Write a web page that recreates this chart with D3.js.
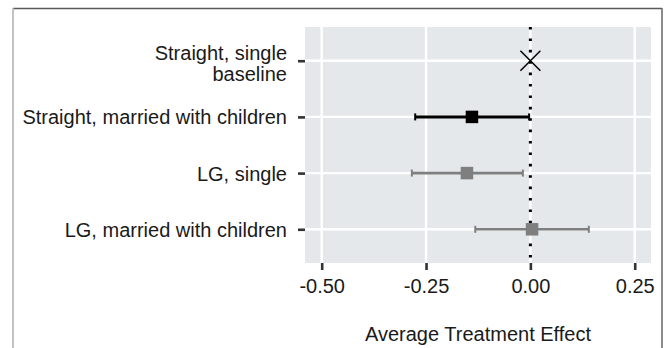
<!DOCTYPE html>
<html>
<head>
<meta charset="utf-8">
<script src="https://cdn.jsdelivr.net/npm/d3@7"></script>
<style>
  html, body { margin: 0; padding: 0; background: #ffffff; }
  svg { display: block; }
  text { font-family: "Liberation Sans", Arial, sans-serif; }
</style>
</head>
<body>
<svg id="chart" width="666" height="348"></svg>
<script>
// ---- data ----
const categories = ["Straight, single\nbaseline", "Straight, married with children", "LG, single", "LG, married with children"];
const groups = ["baseline", "Straight", "LG", "LG"];
const estimates = [0.000, -0.140, -0.152, 0.004];
const lowerCI = [null, -0.276, -0.284, -0.132];
const upperCI = [null, -0.003, -0.018, 0.140];
const xTickValues = [-0.50, -0.25, 0.00, 0.25];
const xTickLabels = ["-0.50", "-0.25", "0.00", "0.25"];
const xTitle = "Average Treatment Effect";

// ---- layout ----
const W = 666, H = 348;
const panel = { left: 305, right: 651, top: 27, bottom: 263 };
const svg = d3.select("#chart");

// frame
svg.append("line").attr("x1", 13).attr("x2", 662).attr("y1", 8.5).attr("y2", 8.5)
  .attr("stroke", "#5a5a5a").attr("stroke-width", 1.6);
svg.append("line").attr("x1", 13).attr("x2", 13).attr("y1", 8).attr("y2", H)
  .attr("stroke", "#b4b4b4").attr("stroke-width", 1.6);
svg.append("line").attr("x1", 662).attr("x2", 662).attr("y1", 8).attr("y2", H)
  .attr("stroke", "#6e6e6e").attr("stroke-width", 1.6);

const x = d3.scaleLinear().domain([-0.54, 0.289]).range([panel.left, panel.right]);
const y = d3.scalePoint().domain(categories).range([panel.top, panel.bottom]).padding(0.6);
const color = d3.scaleOrdinal().domain(["baseline", "Straight", "LG"]).range(["#000000", "#000000", "#7f7f7f"]);

// panel background
svg.append("rect")
  .attr("x", panel.left).attr("y", panel.top)
  .attr("width", panel.right - panel.left).attr("height", panel.bottom - panel.top)
  .attr("fill", "#e4e8ea");

// grid lines
const grid = svg.append("g");
grid.selectAll("line.vx").data(xTickValues).join("line")
  .attr("x1", d => x(d)).attr("x2", d => x(d))
  .attr("y1", panel.top).attr("y2", panel.bottom)
  .attr("stroke", "#ffffff").attr("stroke-width", 2.4);
grid.selectAll("line.hy").data(categories).join("line")
  .attr("x1", panel.left).attr("x2", panel.right)
  .attr("y1", d => y(d)).attr("y2", d => y(d))
  .attr("stroke", "#ffffff").attr("stroke-width", 2.4);

// zero reference (dotted)
svg.append("line")
  .attr("x1", x(0)).attr("x2", x(0))
  .attr("y1", panel.top).attr("y2", panel.bottom)
  .attr("stroke", "#000000").attr("stroke-width", 3)
  .attr("stroke-dasharray", "2.6 8.8");

// x axis
const xAxis = d3.axisBottom(x).tickValues(xTickValues)
  .tickFormat((d, i) => xTickLabels[i]).tickSize(7).tickPadding(9);
const gx = svg.append("g").attr("transform", `translate(0,${panel.bottom})`).call(xAxis);
gx.select(".domain").remove();
gx.selectAll(".tick line").attr("stroke", "#333333").attr("stroke-width", 2.6);
gx.selectAll(".tick text").attr("fill", "#1a1a1a").style("font-size", "20px");

// y axis
const yAxis = d3.axisLeft(y).tickSize(7).tickPadding(11);
const gy = svg.append("g").attr("transform", `translate(${panel.left},0)`).call(yAxis);
gy.select(".domain").remove();
gy.selectAll(".tick line").attr("stroke", "#333333").attr("stroke-width", 2.6);
gy.selectAll(".tick text").each(function(d) {
  const lines = d.split("\n");
  const t = d3.select(this).text(null).attr("fill", "#1a1a1a").style("font-size", "20px").attr("dy", null);
  const lh = 21;
  const offset = -((lines.length - 1) * lh) / 2 + 7;
  lines.forEach((ln, i) => {
    t.append("tspan").attr("x", -18).attr("y", offset + i * lh + (lines.length > 1 ? 2 : 0)).text(ln);
  });
});

// error bars
const marks = svg.append("g");
const rows = categories.map((c, i) => ({ c, g: groups[i], est: estimates[i], lo: lowerCI[i], hi: upperCI[i] }));
const ci = rows.filter(r => r.lo !== null);
marks.selectAll("line.ci").data(ci).join("line")
  .attr("x1", d => x(d.lo)).attr("x2", d => x(d.hi))
  .attr("y1", d => y(d.c)).attr("y2", d => y(d.c))
  .attr("stroke", d => color(d.g)).attr("stroke-width", d => d.g === "LG" ? 2.6 : 3);
marks.selectAll("line.capl").data(ci).join("line")
  .attr("x1", d => x(d.lo)).attr("x2", d => x(d.lo))
  .attr("y1", d => y(d.c) - 3.5).attr("y2", d => y(d.c) + 3.5)
  .attr("stroke", d => color(d.g)).attr("stroke-width", 2);
marks.selectAll("line.caph").data(ci).join("line")
  .attr("x1", d => x(d.hi)).attr("x2", d => x(d.hi))
  .attr("y1", d => y(d.c) - 3.5).attr("y2", d => y(d.c) + 3.5)
  .attr("stroke", d => color(d.g)).attr("stroke-width", 2);

// square points
const sq = 12.5;
marks.selectAll("rect.pt").data(ci).join("rect")
  .attr("x", d => x(d.est) - sq / 2).attr("y", d => y(d.c) - sq / 2)
  .attr("width", sq).attr("height", sq)
  .attr("fill", d => color(d.g));

// baseline X marker
const base = rows.filter(r => r.lo === null);
const xs = 10;
base.forEach(d => {
  const cx = x(d.est), cy = y(d.c);
  marks.append("path")
    .attr("d", `M${cx - xs},${cy - xs}L${cx + xs},${cy + xs}M${cx - xs},${cy + xs}L${cx + xs},${cy - xs}`)
    .attr("stroke", color(d.g)).attr("stroke-width", 1.5).attr("fill", "none");
});

// x axis title
svg.append("text")
  .attr("x", (panel.left + panel.right) / 2).attr("y", 341)
  .attr("text-anchor", "middle").attr("fill", "#1a1a1a")
  .style("font-size", "20px").text(xTitle);
</script>
</body>
</html>
